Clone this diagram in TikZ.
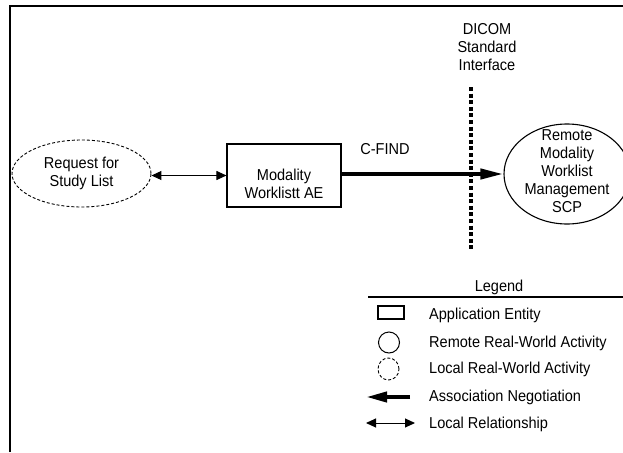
\documentclass[tikz,border=0pt]{standalone}
\usepackage{fontspec}
\setmainfont[FakeStretch=0.92]{Liberation Sans}
\usetikzlibrary{arrows.meta,shapes.geometric}
\begin{document}
\begin{tikzpicture}[x=1pt,y=-1pt,
  every node/.style={font=\fontsize{15.8}{18}\selectfont, inner sep=0pt, align=center},
  frameline/.style={line width=2.2pt},
  localact/.style={draw, ellipse, dashed, dash pattern=on 3pt off 2pt, line width=0.9pt},
  remoteact/.style={draw, ellipse, line width=1.1pt},
  aebox/.style={draw, rectangle, line width=1.1pt},
  assocarrow/.style={line width=4pt, -{Triangle[length=23pt,width=10pt]}},
  localrel/.style={line width=1pt, {Triangle[length=10pt,width=9pt]}-{Triangle[length=10pt,width=9pt]}},
  dotline/.style={line width=4pt, dash pattern=on 4pt off 2.6pt},
  legtext/.style={anchor=west}
]
\useasboundingbox (0,0) rectangle (623,452);
% frame
\coordinate (fbl) at (10,452);
\coordinate (ftl) at (10,6);
\coordinate (ftr) at (623,6);
\draw[frameline] (fbl) -- (ftl) -- (ftr);

% main nodes
\node[localact, minimum width=139pt, minimum height=67pt] (req) at (81.5,173.5) {Request for\\Study List};
\node[aebox, minimum width=114pt, minimum height=63pt] (ae) at (284,175.5) {};
\node (aetext) at (284,184) {Modality\\Worklistt AE};
\node[remoteact, minimum width=126pt, minimum height=100pt] (scp) at (567,174) {};
\node (scptext) at (567,171) {Remote\\Modality\\Worklist\\Management\\SCP};

% DICOM interface
\node (dicom) at (487,47) {DICOM\\Standard\\Interface};
\coordinate (di1) at (471,87);
\coordinate (di2) at (471,249);
\draw[dotline] (di1) -- (di2);

% connectors
\draw[localrel] (req.east |- ae.west) -- (ae.west);
\draw[assocarrow] (ae.east |- scp.west) -- (scp.west);
\node (cfind) at (385,149) {C-FIND};

% legend
\node (legend) at (499,287) {Legend};
\coordinate (lg1) at (368,297);
\coordinate (lg2) at (623,297);
\draw[line width=2pt] (lg1) -- (lg2);

\node[aebox, minimum width=26pt, minimum height=13pt] (iae) at (391,312.5) {};
\node[legtext] (tae) at (429,315) {Application Entity};

\node[remoteact, line width=1pt, minimum width=21pt, minimum height=21pt] (irem) at (389,342.5) {};
\node[legtext] (trem) at (429,343) {Remote Real-World Activity};

\node[localact, minimum width=21pt, minimum height=22pt] (iloc) at (388.5,369) {};
\node[legtext] (tloc) at (429,369) {Local Real-World Activity};

\coordinate (as1) at (410,397);
\coordinate (as2) at (366,397);
\draw[assocarrow, -{Triangle[length=21pt,width=10pt]}] (as1) -- (as2);
\node[legtext] (tas) at (429,397) {Association Negotiation};

\coordinate (lr1) at (366,423);
\coordinate (lr2) at (415,423);
\draw[localrel] (lr1) -- (lr2);
\node[legtext] (tlr) at (429,424) {Local Relationship};
\end{tikzpicture}
\end{document}
